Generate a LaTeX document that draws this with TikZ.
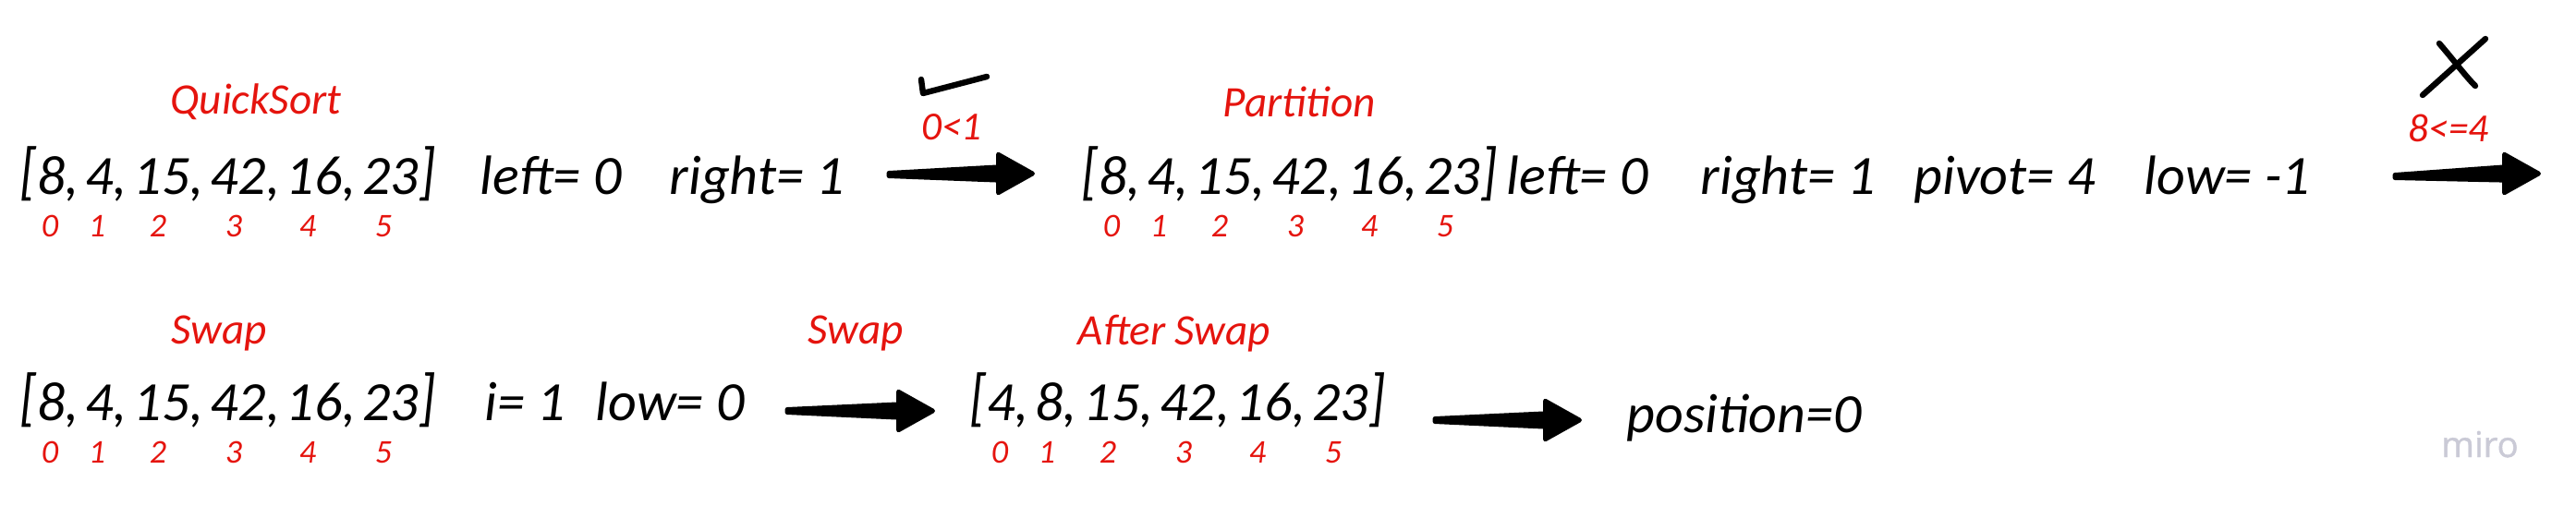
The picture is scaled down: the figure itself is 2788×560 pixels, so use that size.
\documentclass[tikz,border=0pt]{standalone}
\usepackage{graphicx}
\usepackage{fontspec}
\usetikzlibrary{calc}
\newfontfamily\handfam{Carlito}
\newcommand\hand{\handfam\itshape}
\newfontfamily\mirofont{Open Sans}[FakeBold=1.2]
\definecolor{myred}{HTML}{E5140E}
\definecolor{mirogrey}{HTML}{CACAD6}
% tall brackets and spaced commas, as in the handwriting
\newcommand\lbr{\raisebox{0.03em}{\scalebox{1}[1.15]{[}}}
\newcommand\rbr{\raisebox{0.03em}{\scalebox{1}[1.15]{]}}}
\newcommand\cm{,\hspace{1.7pt}}
% tapered fat arrow from #1 (tail) to #2 (tip)
\newcommand\fatarrow[2]{%
  \filldraw[fatarrow] let \p1=(#1), \p2=(#2) in
    (\x1,\y1+0.4pt) -- (\x2-9.9pt,\y2+1.8pt) -- (\x2-9.9pt,\y2+5.2pt) -- (\x2-0.6pt,\y2)
    -- (\x2-9.9pt,\y2-5.2pt) -- (\x2-9.9pt,\y2-1.8pt) -- (\x1,\y1-0.4pt) -- cycle;}
\begin{document}
\begin{tikzpicture}[x=0.25pt,y=-0.25pt,
  txt/.style={inner sep=0pt, font=\hand\fontsize{15}{18}\selectfont, text=black, anchor=base west},
  ttl/.style={inner sep=0pt, font=\hand\fontsize{11.8}{14}\selectfont, text=myred},
  idx/.style={inner sep=0pt, font=\hand\fontsize{9}{10}\selectfont, text=myred},
  cond/.style={inner sep=0pt, font=\hand\fontsize{10.8}{12}\selectfont, text=myred},
  fatarrow/.style={fill=black, draw=black, line width=1.2pt, line join=round},
  penstroke/.style={draw=black, line width=1.6pt, line cap=round, line join=round}]
\useasboundingbox (0,0) rectangle (2788,560);

% ---------- row 1 ----------
\node[ttl] (t1) at (277,110) {QuickSort};
\node[txt] (A1) at (21,210) {\lbr8\cm4\cm15\cm42\cm16\cm23\rbr};
\foreach \o [count=\k from 0] in {33,84,150,232,312,394}
  \node[idx] (A1i\k) at ($(A1.base west)+(\o,35)$) {\k};
\node[txt] (L1) at (519,210) {left= 0};
\node[txt] (R1) at (724,210) {right= 1};

\draw[penstroke] (997,86) -- (999,101) -- (1068,83);
\node[cond] (c1) at (1030,138) {0<1};
\coordinate (a1s) at (962,189);
\coordinate (a1e) at (1120,188);
\fatarrow{a1s}{a1e}

\node[ttl] (t2) at (1406,110) {Partition};
\node[txt] (A2) at (1170,210) {\lbr8\cm4\cm15\cm42\cm16\cm23\rbr};
\foreach \o [count=\k from 0] in {33,84,150,232,312,394}
  \node[idx] (A2i\k) at ($(A2.base west)+(\o,35)$) {\k};
\node[txt] (L2) at (1630,210) {left= 0};
\node[txt] (R2) at (1840,210) {right= 1};
\node[txt] (P2) at (2071,210) {pivot= 4};
\node[txt] (W2) at (2320,210) {low= -1};

\draw[penstroke] (2622,103) -- (2690,42);
\draw[penstroke] (2640,47) .. controls (2658,68) and (2668,82) .. (2679,93);
\node[cond] (c2) at (2650,139) {8<=4};
\coordinate (a2s) at (2592,191);
\coordinate (a2e) at (2750,188);
\fatarrow{a2s}{a2e}

% ---------- row 2 ----------
\node[ttl] (t3) at (237,361) {Swap};
\node[txt] (A3) at (21,455) {\lbr8\cm4\cm15\cm42\cm16\cm23\rbr};
\foreach \o [count=\k from 0] in {33,84,150,232,312,394}
  \node[idx] (A3i\k) at ($(A3.base west)+(\o,35)$) {\k};
\node[txt] (I3) at (524,455) {i= 1};
\node[txt] (W3) at (644,455) {low= 0};

\node[ttl] (t4) at (926,361) {Swap};
\coordinate (a3s) at (852,445);
\coordinate (a3e) at (1012,445);
\fatarrow{a3s}{a3e}

\node[ttl] (t5) at (1271,361) {After Swap};
\node[txt] (A4) at (1049,455) {\lbr4\cm8\cm15\cm42\cm16\cm23\rbr};
\foreach \o [count=\k from 0] in {33,84,150,232,312,394}
  \node[idx] (A4i\k) at ($(A4.base west)+(\o,35)$) {\k};

\coordinate (a4s) at (1553,455);
\coordinate (a4e) at (1712,455);
\fatarrow{a4s}{a4e}
\node[txt] (pos) at (1760,468) {position=0};

\node[inner sep=0pt, anchor=base, font=\mirofont\fontsize{9.6}{11}\selectfont, text=mirogrey] (miro) at (2684,495) {miro};
\end{tikzpicture}
\end{document}
